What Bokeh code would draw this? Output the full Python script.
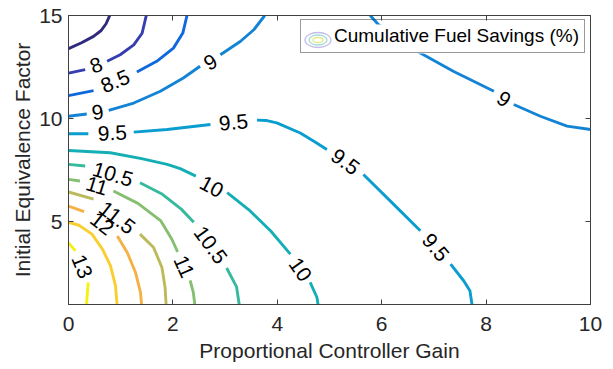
import math
from bokeh.plotting import figure
from bokeh.models import Range1d, LinearAxis, FixedTicker, ColumnDataSource, Legend, LegendItem
from bokeh.core.properties import value
from bokeh.embed import file_html
from bokeh.resources import INLINE

# ---------------- data ----------------
levels = [7.5, 8.0, 8.5, 9.0, 9.5, 10.0, 10.5, 11.0, 11.5, 12.0, 12.5, 13.0]
level_colors = ["#2f2a7e", "#353db0", "#0f69dc", "#1384d5", "#0a9dd0", "#14afb5",
                "#37b99e", "#86bf72", "#bcbb5c", "#f6b146", "#f9cf30", "#f5f213"]

# contour lines: each level is a list of segments (breaks where labels sit)
contour_7_5 = [[(0, 13.39), (0.25, 13.68), (0.48, 13.99), (0.62, 14.26), (0.72, 14.6), (0.79, 15.0)]]
contour_8_0 = [[(0, 12.21), (0.32, 12.38)],
               [(0.74, 12.78), (0.99, 13.10), (1.25, 13.58), (1.41, 14.14), (1.49, 15.0)]]
contour_8_5 = [[(0, 11.12), (0.48, 11.36)],
               [(1.31, 12.26), (1.69, 12.78), (2.01, 13.42), (2.19, 14.15), (2.27, 15.0)]]
contour_9_0 = [[(0, 10.12), (0.35, 10.23)],
               [(0.77, 10.40), (1.25, 10.76), (1.76, 11.33), (2.20, 11.97), (2.52, 12.54)],
               [(2.91, 13.10), (3.29, 13.74), (3.55, 14.31), (3.76, 15.0)],
               [(5.78, 15.0), (5.94, 14.55), (6.74, 13.18), (7.38, 12.29), (8.15, 11.33)],
               [(8.53, 10.69), (9.04, 10.12), (9.55, 9.64), (10.0, 9.48)]]
contour_9_5 = [[(0, 9.27), (0.38, 9.27)],
               [(1.25, 9.35), (1.89, 9.48), (2.72, 9.72)],
               [(3.61, 9.93), (3.80, 9.91), (3.99, 9.80), (4.44, 9.31), (4.70, 8.91), (4.95, 8.51)],
               [(5.65, 7.30), (6.23, 5.85), (6.74, 4.57)],
               [(7.32, 2.96), (7.57, 2.15), (7.69, 1.67), (7.73, 1.0)]]
contour_10_0 = [[(0, 8.46), (0.80, 8.35), (1.40, 8.07), (1.89, 7.79), (2.14, 7.58), (2.44, 7.22)],
                [(3.04, 6.42), (3.45, 5.60), (3.87, 4.57), (4.25, 3.44)],
                [(4.63, 2.07), (4.76, 1.34), (4.78, 1.0)]]
contour_10_5 = [[(0, 7.79), (0.32, 7.71)],
                [(1.37, 6.90), (1.80, 6.34), (2.16, 5.62), (2.40, 4.99)],
                [(3.03, 2.77), (3.22, 1.85), (3.27, 1.0)]]
contour_11_0 = [[(0, 7.06), (0.22, 6.98)],
                [(0.86, 6.50), (1.33, 5.90), (1.77, 5.05), (1.98, 4.16), (2.09, 3.55)],
                [(2.33, 2.17), (2.39, 1.6), (2.42, 1.0)]]
contour_11_5 = [[(0, 6.45), (0.48, 6.10)],
                [(1.37, 4.41), (1.63, 3.76), (1.79, 2.79), (1.85, 1.83), (1.87, 1.0)]]
contour_12_0 = [[(0, 5.77), (0.30, 5.50)],
                [(0.935, 4.32), (1.125, 3.52), (1.284, 2.55), (1.38, 1.58), (1.40, 1.0)]]
contour_12_5 = [[(0, 4.98), (0.20, 4.84), (0.45, 4.41), (0.65, 3.68), (0.805, 2.87), (0.90, 1.91), (0.93, 1.0)]]
contour_13_0 = [[(0, 4.0), (0.13, 3.6)],
                [(0.378, 2.07), (0.358, 1.43), (0.345, 1.0)]]

contours = [contour_7_5, contour_8_0, contour_8_5, contour_9_0, contour_9_5, contour_10_0,
            contour_10_5, contour_11_0, contour_11_5, contour_12_0, contour_12_5, contour_13_0]

# inline contour labels
label_text = ["8", "8.5", "9", "9", "9", "9.5", "9.5", "9.5", "9.5", "10", "10",
              "10.5", "10.5", "11", "11", "11.5", "12", "13"]
label_x = [0.53, 0.895, 0.56, 2.72, 8.34, 0.84, 3.16, 5.30, 7.03, 2.74, 4.44,
           0.85, 2.72, 0.544, 2.21, 0.93, 0.64, 0.257]
label_y = [12.58, 11.81, 10.31, 12.74, 10.95, 9.30, 9.82, 7.91, 3.76, 6.70, 2.69,
           7.30, 3.88, 6.74, 2.83, 5.20, 4.91, 2.84]
label_angle_deg = [21, 23, 9, 30, -34, 2, 5, -36, -50, -28, -55,
                   -17, -54, -17, -66, -38, -38, -68]

x_ticks = [0, 2, 4, 6, 8, 10]
y_ticks = [5, 10, 15]
x_title = "Proportional Controller Gain"
y_title = "Initial Equivalence Factor"
legend_label = "Cumulative Fuel Savings (%)"

# legend icon: concentric ellipses (sizes in pixels)
icon_w_px = [26, 18, 10]
icon_h_px = [15, 10, 5]
icon_colors = ["#c4bceb", "#9fdcd8", "#e6ea84"]

# ---------------- figure ----------------
FONT = "Liberation Sans"
AX = "#404040"
TXT = "#262626"
FRAME_W, FRAME_H = 522, 289
X0, X1, Y0, Y1 = 0, 10, 1, 15

def px_to_x(px):
    return X0 + px * (X1 - X0) / FRAME_W

def px_to_y(py):
    return Y0 + py * (Y1 - Y0) / FRAME_H

p = figure(width=605, height=369,
           x_range=Range1d(X0, X1), y_range=Range1d(Y0, Y1),
           output_backend="svg", toolbar_location=None,
           min_border_left=68, min_border_right=15, min_border_top=15, min_border_bottom=65,
           background_fill_color="white", border_fill_color="white",
           outline_line_color=AX, outline_line_width=1)
p.grid.visible = False

xs, ys, cols = [], [], []
for segs, col in zip(contours, level_colors):
    for seg in segs:
        xs.append([pt[0] for pt in seg])
        ys.append([pt[1] for pt in seg])
        cols.append(col)
line_src = ColumnDataSource(dict(xs=xs, ys=ys, color=cols))
p.multi_line("xs", "ys", source=line_src, line_color="color", line_width=2.9,
             line_join="round", line_cap="butt")

lab_src = ColumnDataSource(dict(x=label_x, y=label_y, text=label_text,
                                angle=[math.radians(a) for a in label_angle_deg]))
p.text("x", "y", text="text", angle="angle", source=lab_src,
       text_font=value(FONT), text_font_size="21px", text_color="#000000",
       text_align="center", text_baseline="middle")

# axes styling
for ax in (p.xaxis[0], p.yaxis[0]):
    ax.major_tick_in = 5
    ax.major_tick_out = 0
    ax.minor_tick_line_color = None
    ax.axis_line_color = AX
    ax.major_tick_line_color = AX
    ax.major_label_text_font = FONT
    ax.major_label_text_font_size = "21px"
    ax.major_label_text_color = TXT
    ax.axis_label_text_font = FONT
    ax.axis_label_text_font_size = "21px"
    ax.axis_label_text_font_style = "normal"
    ax.axis_label_text_color = TXT

p.xaxis[0].ticker = FixedTicker(ticks=x_ticks)
p.yaxis[0].ticker = FixedTicker(ticks=y_ticks)
p.xaxis[0].axis_label = x_title
p.yaxis[0].axis_label = y_title
p.xaxis[0].major_label_standoff = 12
p.xaxis[0].axis_label_standoff = 5
p.yaxis[0].major_label_standoff = 6
p.yaxis[0].axis_label_standoff = 2

# mirrored (label-free) tick marks on the top and right sides
for place, ticks in (("above", x_ticks), ("right", y_ticks)):
    ax = LinearAxis(ticker=FixedTicker(ticks=[], minor_ticks=ticks),
                    major_tick_line_color=None, minor_tick_in=5, minor_tick_out=0,
                    minor_tick_line_color=AX, axis_line_color=AX)
    p.add_layout(ax, place)

# legend: screen-px placement relative to the frame's bottom-left corner
LEG_LEFT, LEG_BOTTOM, LEG_W, LEG_H = 232, 251, 283, 29
icon_x = px_to_x(LEG_LEFT + 5 + 12.5)
icon_y = px_to_y(LEG_BOTTOM + LEG_H / 2 - 1)

# white panel behind the (transparent) legend so the contour under it is hidden
p.quad(left=[px_to_x(LEG_LEFT)], right=[px_to_x(LEG_LEFT + LEG_W)],
       bottom=[px_to_y(LEG_BOTTOM)], top=[px_to_y(LEG_BOTTOM + LEG_H)],
       fill_color="white", line_color=None)
icon_src = ColumnDataSource(dict(
    x=[icon_x] * 3, y=[icon_y] * 3,
    w=[w * (X1 - X0) / FRAME_W for w in icon_w_px],
    h=[h * (Y1 - Y0) / FRAME_H for h in icon_h_px],
    color=icon_colors))
p.ellipse(x="x", y="y", width="w", height="h", source=icon_src,
          fill_color=None, line_color="color", line_width=1.3)

dummy = p.line(x=[icon_x], y=[icon_y], line_alpha=0)
legend = Legend(items=[LegendItem(label=legend_label, renderers=[dummy])],
                location=(LEG_LEFT, LEG_BOTTOM), padding=5, margin=0, spacing=0,
                glyph_width=25, glyph_height=18, label_standoff=3,
                label_text_font=FONT, label_text_font_size="19px", label_text_color="#000000",
                border_line_color="#333333", border_line_width=1,
                background_fill_alpha=0.0)
p.add_layout(legend)

open("out.html", "w").write(file_html(p, INLINE))
